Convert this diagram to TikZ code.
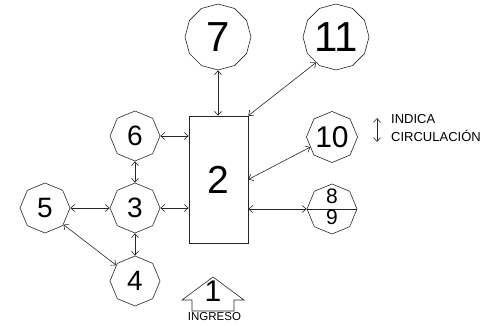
\documentclass[tikz,border=0pt]{standalone}
\usepackage{fontspec}
\setmainfont{Liberation Sans}
\usetikzlibrary{shapes.geometric,arrows.meta}
\tikzset{
  ln/.style={line width=0.6pt,draw=black!85},
  flow/.style={ln,{Straight Barb[length=4pt,width=7pt]}-{Straight Barb[length=4pt,width=7pt]}},
  octa/.style={ln,regular polygon,regular polygon sides=8,shape border rotate=22.5,
    minimum size=50pt,inner sep=0pt,font=\fontsize{28}{28}\selectfont},
  dodeca/.style={ln,regular polygon,regular polygon sides=12,shape border rotate=15,
    minimum size=66pt,inner sep=0pt,font=\fontsize{42}{42}\selectfont},
  lbl/.style={inner sep=0pt}
}
\begin{document}
\begin{tikzpicture}[x=1pt,y=-1pt]
\useasboundingbox (0,0) rectangle (495,326);
% main block
\node[ln,draw,minimum width=59pt,minimum height=127pt,inner sep=0pt,
  font=\fontsize{39}{39}\selectfont] (n2) at (218.5,179.5) {2};
% large rooms
\node[dodeca] (n7) at (218,37) {7};
\node[dodeca] (n11) at (336,37) {11};
% small rooms
\node[octa] (n6) at (135,136) {6};
\node[octa] (n3) at (135,208) {3};
\node[octa] (n5) at (45,208) {5};
\node[octa] (n4) at (135,281) {4};
\node[octa,font=\fontsize{30}{30}\selectfont] (n10) at (332,137) {10};
\node[octa] (n89) at (332,209) {};
\draw[ln] (n89.west) -- (n89.east);
\node[lbl,font=\fontsize{21}{21}\selectfont] (t8) at (332,196.5) {8};
\node[lbl,font=\fontsize{21}{21}\selectfont] (t9) at (332,217) {9};
% connectors
\draw[flow] (n7.south) -- (n7.south |- n2.north);
\draw[flow] (n2.north east) -- (n11.232);
\draw[flow] (n2.east) -- (n10.205);
\draw[flow] (n2.east |- n89.west) -- (n89.west);
\draw[flow] (n6.east) -- (n2.west |- n6.east);
\draw[flow] (n3.east) -- (n2.west |- n3.east);
\draw[flow] (n5.east) -- (n3.west);
\draw[flow] (n6.south) -- (n3.north);
\draw[flow] (n3.south) -- (n4.north);
\draw[flow] (n5.318) -- (n4.140);
% entrance arrow
\draw[ln,line join=miter] (213,277) -- (244,300) -- (234,300) -- (234,311) -- (192,311) -- (192,300) -- (182,300) -- cycle;
\node[lbl,font=\fontsize{30}{30}\selectfont] (n1) at (213,291) {1};
\node[lbl,font=\fontsize{11.5}{11.5}\selectfont] (ing) at (214.5,317) {INGRESO};
% legend
\coordinate (la) at (377,118);
\coordinate (lb) at (377,142);
\draw[flow] (la) -- (lb);
\node[lbl,anchor=west,align=left,font=\fontsize{13}{18}\selectfont] (leg) at (391,128.5) {INDICA\\CIRCULACIÓN};
\end{tikzpicture}
\end{document}
